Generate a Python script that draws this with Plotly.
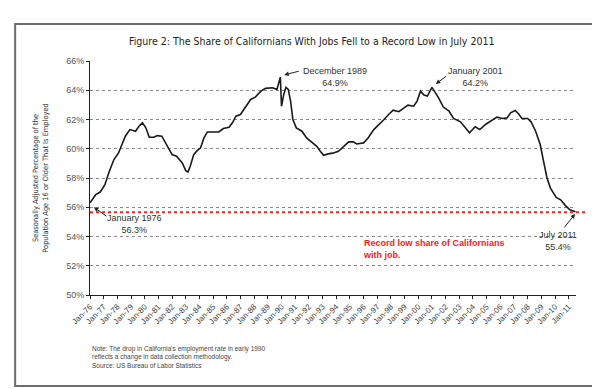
import plotly.graph_objects as go

months = [
    "1976-01", "1976-06", "1976-10", "1977-02", "1977-06", "1977-10", "1978-02", "1978-05",
    "1978-08", "1978-12", "1979-05", "1979-08", "1979-11", "1980-02", "1980-05", "1980-09",
    "1980-12", "1981-04", "1981-08", "1982-01", "1982-05", "1982-10", "1983-01", "1983-03",
    "1983-05", "1983-08", "1983-11", "1984-02", "1984-05", "1984-08", "1985-02", "1985-06",
    "1985-10", "1986-03", "1986-06", "1986-09", "1987-01", "1987-05", "1987-10", "1988-02",
    "1988-07", "1988-11", "1989-05", "1989-09", "1989-12", "1990-01", "1990-03", "1990-05",
    "1990-07", "1990-09", "1990-11", "1991-02", "1991-07", "1991-11", "1992-04", "1992-08",
    "1992-11", "1993-02", "1993-06", "1993-10", "1994-03", "1994-07", "1994-12", "1995-04",
    "1995-07", "1996-01", "1996-05", "1996-10", "1997-02", "1997-07", "1997-11", "1998-03",
    "1998-08", "1998-12", "1999-04", "1999-09", "1999-12", "2000-03", "2000-06", "2000-09",
    "2001-01", "2001-07", "2001-11", "2002-04", "2002-08", "2003-02", "2003-06", "2003-10",
    "2004-03", "2004-07", "2004-12", "2005-06", "2005-10", "2006-03", "2006-07", "2006-10",
    "2007-02", "2007-05", "2007-08", "2008-01", "2008-04", "2008-08", "2008-12", "2009-03",
    "2009-06", "2009-09", "2010-02", "2010-06", "2010-10", "2011-02", "2011-07",
]
share = [
    56.3, 56.86, 57.04, 57.54, 58.46, 59.26, 59.71, 60.29,
    60.86, 61.31, 61.2, 61.54, 61.77, 61.43, 60.79, 60.79,
    60.9, 60.86, 60.29, 59.6, 59.49, 59.03, 58.5, 58.41,
    58.8, 59.6, 59.87, 60.06, 60.74, 61.15, 61.15, 61.15,
    61.38, 61.47, 61.77, 62.23, 62.34, 62.8, 63.37, 63.53,
    63.94, 64.13, 64.17, 64.06, 64.9, 62.9, 63.7, 64.2,
    64.06, 63.26, 62.0, 61.43, 61.2, 60.74, 60.4, 60.17,
    59.83, 59.55, 59.65, 59.7, 59.83, 60.1, 60.47, 60.47,
    60.33, 60.4, 60.74, 61.31, 61.6, 62.0, 62.34, 62.64,
    62.53, 62.75, 62.98, 62.91, 63.26, 63.94, 63.67, 63.6,
    64.2, 63.46, 62.85, 62.57, 62.07, 61.84, 61.43, 61.09,
    61.5, 61.31, 61.66, 61.93, 62.16, 62.07, 62.11, 62.46,
    62.62, 62.39, 62.07, 62.07, 61.84, 61.2, 60.29, 59.14,
    58.0, 57.31, 56.67, 56.51, 56.13, 55.83, 55.7,
]
record_low = 55.65
y_ticks = [50, 52, 54, 56, 58, 60, 62, 64, 66]
y_tick_labels = ["50%", "52%", "54%", "56%", "58%", "60%", "62%", "64%", "66%"]

title_text = "Figure 2: The Share of Californians With Jobs Fell to a Record Low in July 2011"
y_title = "Seasonally Adjusted Percentage of the<br>Population Age 16 or Older That Is Employed"
note_text = ("Note: The drop in California's employment rate in early 1990<br>"
             "reflects a change in data collection methodology.<br>"
             "Source: US Bureau of Labor Statistics")

NARROW = "Liberation Sans Narrow, Arial Narrow, DejaVu Sans Condensed, sans-serif"
ARIAL = "Liberation Sans, Arial, sans-serif"

fig = go.Figure()
fig.add_trace(go.Scatter(
    x=[m + "-01" for m in months], y=share, mode="lines",
    line=dict(color="#1a1a1a", width=1.6), hoverinfo="skip", showlegend=False,
))

fig.update_layout(
    width=600, height=389,
    margin=dict(l=82, r=32, t=53, b=102),
    paper_bgcolor="white", plot_bgcolor="white",
    showlegend=False,
    xaxis=dict(
        type="date", range=["1976-01-01", "2011-07-15"],
        tick0="1976-01-01", dtick="M12", tickformat="%b-%y", tickangle=-45,
        ticks="outside", ticklen=3, tickcolor="#222",
        showline=True, linecolor="#222", linewidth=1,
        showgrid=False, zeroline=False,
        tickfont=dict(family=ARIAL, size=8, color="#444"),
    ),
    yaxis=dict(
        range=[50, 66], tickvals=y_ticks, ticktext=y_tick_labels,
        ticks="outside", ticklen=3, tickcolor="#222",
        showline=True, linecolor="#222", linewidth=1,
        showgrid=True, gridcolor="#8a8a8a", griddash="3px,3px", gridwidth=1,
        zeroline=False,
        tickfont=dict(family=ARIAL, size=9, color="#555"),
        title=dict(text=y_title, font=dict(family=NARROW, size=7.4, color="#333"), standoff=16),
    ),
)

# record-low dotted line
fig.add_shape(type="line", xref="paper", yref="y", x0=0, x1=1.022, y0=record_low, y1=record_low,
              line=dict(color="#ff2020", width=2, dash="dot"))

# outer frame
fig.add_shape(type="rect", xref="paper", yref="paper", x0=-0.154, x1=1.039, y0=-0.389, y1=1.158,
              line=dict(color="#6d6d6d", width=2), fillcolor="rgba(0,0,0,0)", layer="below")

# title
fig.add_annotation(text=title_text, xref="paper", yref="paper", x=0.456, y=1.085,
                   showarrow=False, xanchor="center", yanchor="middle",
                   font=dict(family=NARROW, size=10.5, color="#222"))

ann_font = dict(family=ARIAL, size=9, color="#333")
labels = [
    ("January 1976<br>56.3%", "1979-04-15", 54.85),
    ("December 1989<br>64.9%", "1993-12-01", 64.9),
    ("January 2001<br>64.2%", "2004-03-01", 64.94),
    ("July 2011<br>55.4%", "2010-04-01", 53.66),
]
for txt, xx, yy in labels:
    fig.add_annotation(text=txt, x=xx, y=yy, xref="x", yref="y", showarrow=False,
                       xanchor="center", yanchor="middle", font=ann_font)

arrows = [
    ("1976-04-15", 56.0, 14, 10),
    ("1990-03-15", 65.05, 16, -4),
    ("2001-04-15", 64.43, 12, -9),
    ("2011-06-20", 55.54, -12, 15),
]
for xx, yy, ax, ay in arrows:
    fig.add_annotation(text="", x=xx, y=yy, xref="x", yref="y", ax=ax, ay=ay,
                       showarrow=True, arrowhead=2, arrowsize=0.9, arrowwidth=1, arrowcolor="#222")

fig.add_annotation(text="<b>Record low share of Californians<br>with job.</b>",
                   x="1995-10-20", y=53.15, xref="x", yref="y", showarrow=False,
                   xanchor="left", yanchor="middle", align="left",
                   font=dict(family=ARIAL, size=9, color="#ff2020"))

fig.add_annotation(text=note_text, xref="paper", yref="paper", x=0.0, y=-0.205,
                   xanchor="left", yanchor="top", align="left", showarrow=False,
                   font=dict(family=ARIAL, size=6.5, color="#444"))

fig.write_html("out.html")
